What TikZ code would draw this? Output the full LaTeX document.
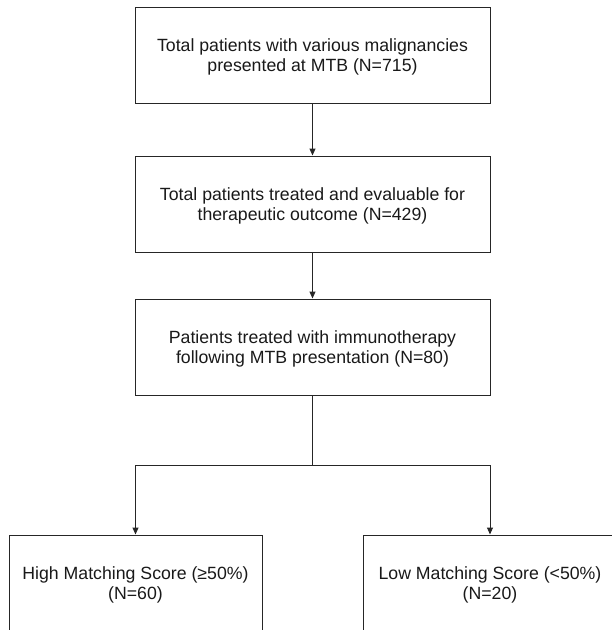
\documentclass[tikz,border=0pt]{standalone}
\usepackage{fontspec}
\setmainfont{Liberation Sans}
\usetikzlibrary{arrows.meta}
\tikzset{
  flowbox/.style={draw=black!85, line width=1pt, inner sep=0pt, minimum height=96},
  boxtext/.style={align=center, inner sep=0pt, text=black!90,
    font=\fontsize{17.7}{20}\selectfont, yshift=-2pt},
  flowarrow/.style={draw=black!85, line width=1pt, -{Triangle[length=7pt,width=6pt]}}
}
\begin{document}
\begin{tikzpicture}[x=1pt,y=1pt,yscale=-1,xscale=1]
\useasboundingbox (0,0) rectangle (612,630);
\clip (0,0) rectangle (612,630);

%Shape: Rectangle [id:total]
\node (total) [flowbox, minimum width=355, label={[boxtext]center:Total patients with various malignancies\\presented at MTB (N=715)}] at (312.5,55) {};
%Shape: Rectangle [id:treated]
\node (treated) [flowbox, minimum width=355, label={[boxtext]center:Total patients treated and evaluable for\\therapeutic outcome (N=429)}] at (312.5,204) {};
%Shape: Rectangle [id:immuno]
\node (immuno) [flowbox, minimum width=355, label={[boxtext]center:Patients treated with immunotherapy\\following MTB presentation (N=80)}] at (312.5,347) {};
%Shape: Rectangle [id:high]
\node (high) [flowbox, minimum width=253, label={[boxtext]center:High Matching Score (≥50\%)\\(N=60)}] at (135.5,583) {};
%Shape: Rectangle [id:low]
\node (low) [flowbox, minimum width=254, label={[boxtext]center:Low Matching Score (<50\%)\\(N=20)}] at (490,583) {};

\coordinate (split) at (312.5,465);

% Connection
\draw [flowarrow] (total) -- (treated);
% Connection
\draw [flowarrow] (treated) -- (immuno);
% Connection
\draw [draw=black!85, line width=1pt] (immuno) -- (split);
\draw [flowarrow] (split) -| (high.north);
\draw [flowarrow] (split) -| (low.north);

\end{tikzpicture}
\end{document}
